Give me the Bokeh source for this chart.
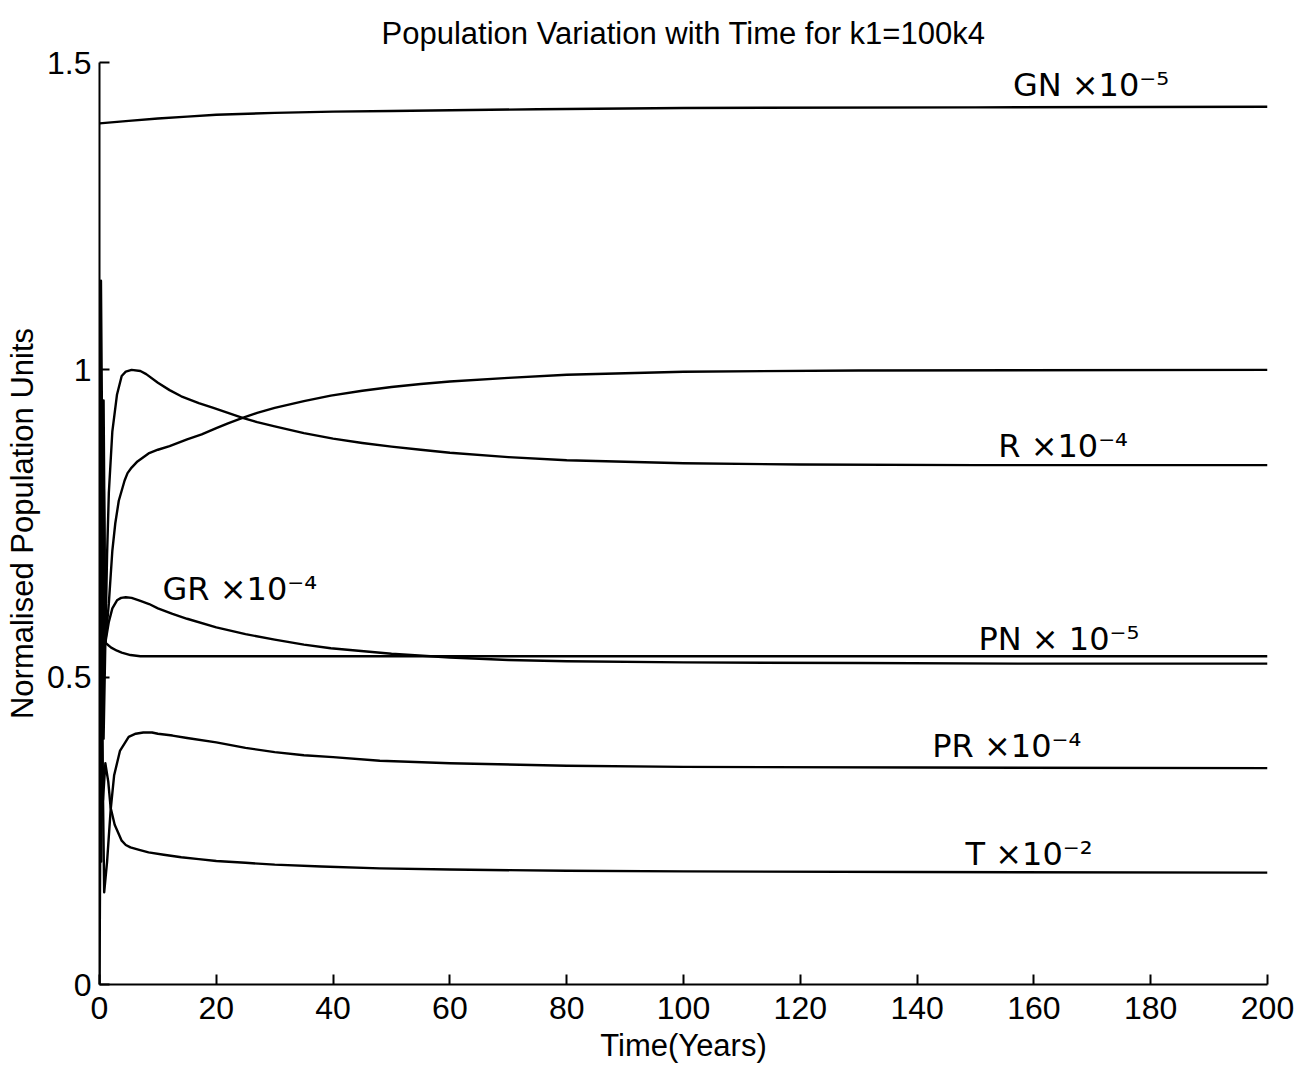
from bokeh.plotting import figure
from bokeh.models import Range1d, FixedTicker, ColumnDataSource
from bokeh.core.properties import value
from bokeh.embed import file_html
from bokeh.resources import INLINE

# ---- data ----
t_GN = [0, 2.5, 5, 10, 15, 20, 30, 40, 50, 75, 100, 150, 200]
GN = [1.401, 1.403, 1.405, 1.409, 1.412, 1.415, 1.418, 1.420, 1.421, 1.424, 1.426, 1.427, 1.428]

t_R = [0, 0.25, 0.6, 1.0, 1.3, 1.6, 2.2, 3.0, 3.8, 4.5, 5.5, 7, 8, 10, 12, 14, 17, 19.5, 22, 24.5, 27, 30, 35, 40, 45, 50, 55, 60, 70, 80, 100, 120, 150, 200]
R = [0.30, 1.145, 0.70, 0.556, 0.70, 0.80, 0.90, 0.96, 0.99, 0.997, 1.0, 0.998, 0.993, 0.979, 0.967, 0.957, 0.946, 0.938, 0.930, 0.922, 0.915, 0.908, 0.897, 0.888, 0.881, 0.875, 0.870, 0.865, 0.858, 0.853, 0.848, 0.846, 0.845, 0.845]

t_N = [0, 0.3, 0.7, 1.0, 1.6, 2.2, 2.7, 3.3, 4.3, 4.8, 5.5, 6.5, 8.4, 10, 12, 15, 17.5, 20, 22, 24.5, 27, 30, 35, 39.6, 45, 50, 55, 60, 70, 80, 100, 130, 200]
N = [0.85, 0.35, 0.95, 0.556, 0.62, 0.706, 0.75, 0.787, 0.82, 0.832, 0.841, 0.851, 0.864, 0.870, 0.876, 0.887, 0.895, 0.905, 0.913, 0.922, 0.930, 0.938, 0.949, 0.958, 0.966, 0.972, 0.977, 0.981, 0.987, 0.992, 0.997, 0.999, 1.0]

t_GR = [0, 0.3, 0.7, 1.0, 1.6, 2.2, 3.0, 3.7, 4.5, 5.5, 7, 8.5, 10, 12.5, 15, 20, 25, 30, 35, 39.6, 50, 60, 70, 80, 100, 130, 160, 200]
GR = [0.45, 0.95, 0.40, 0.556, 0.59, 0.612, 0.625, 0.629, 0.630, 0.629, 0.624, 0.619, 0.612, 0.603, 0.595, 0.581, 0.570, 0.561, 0.553, 0.547, 0.538, 0.532, 0.528, 0.526, 0.524, 0.523, 0.522, 0.522]

t_PN = [0, 0.3, 0.7, 1.0, 2.0, 3.0, 3.8, 5.3, 7, 10, 20, 50, 100, 200]
PN = [0.65, 0.20, 0.85, 0.556, 0.548, 0.543, 0.540, 0.536, 0.534, 0.534, 0.534, 0.534, 0.534, 0.534]

t_PR = [0, 0.35, 0.8, 1.3, 1.9, 2.5, 3.5, 5.0, 6.2, 7.5, 9, 10, 12.5, 15, 20, 25, 30, 35, 40, 48, 60, 80, 100, 140, 200]
PR = [0.17, 0.50, 0.15, 0.20, 0.283, 0.34, 0.38, 0.403, 0.408, 0.41, 0.41, 0.408, 0.405, 0.401, 0.394, 0.385, 0.378, 0.373, 0.370, 0.364, 0.360, 0.356, 0.354, 0.353, 0.352]

t_T = [0, 0.3, 0.6, 1.0, 1.5, 1.9, 2.6, 3.8, 4.5, 5.3, 6.8, 8.4, 11, 14, 17, 20, 25, 30, 38, 48, 60, 80, 100, 140, 200]
T = [0.0, 0.55, 0.30, 0.36, 0.33, 0.288, 0.26, 0.234, 0.227, 0.223, 0.219, 0.215, 0.211, 0.207, 0.204, 0.201, 0.198, 0.195, 0.192, 0.189, 0.187, 0.185, 0.184, 0.183, 0.182]

x_ticks = [0, 20, 40, 60, 80, 100, 120, 140, 160, 180, 200]
y_ticks = [0, 0.5, 1, 1.5]
y_tick_labels = ["0", "0.5", "1", "1.5"]

label_text = ["GN ×10⁻⁵", "R ×10⁻⁴", "GR ×10⁻⁴", "PN × 10⁻⁵", "PR ×10⁻⁴", "T ×10⁻²"]
label_t = [156.4, 153.9, 10.8, 150.5, 142.6, 148.3]
label_v = [1.464, 0.876, 0.644, 0.562, 0.388, 0.212]

FONT = "Liberation Sans"

p = figure(width=1305, height=1070, x_range=Range1d(0, 200), y_range=Range1d(0, 1.5),
           output_backend="svg", toolbar_location=None,
           min_border_left=99, min_border_right=38, min_border_top=62, min_border_bottom=86,
           title="Population Variation with Time for k1=100k4")
p.title.align = "center"
p.title.text_font = FONT
p.title.text_font_size = "31px"
p.title.text_font_style = "normal"
p.title.text_color = "black"
p.title.standoff = 24
p.grid.visible = False
p.outline_line_color = None
p.background_fill_color = "white"

for ax in (p.xaxis[0], p.yaxis[0]):
    ax.major_tick_in = 10
    ax.major_tick_out = 0
    ax.minor_tick_line_color = None
    ax.axis_line_width = 2
    ax.major_tick_line_width = 2
    ax.axis_line_color = "black"
    ax.major_tick_line_color = "black"
    ax.major_label_text_font = FONT
    ax.major_label_text_font_size = "32px"
    ax.major_label_text_color = "black"
    ax.axis_label_text_font = FONT
    ax.axis_label_text_font_size = "31px"
    ax.axis_label_text_font_style = "normal"
    ax.axis_label_text_color = "black"

p.xaxis.ticker = FixedTicker(ticks=x_ticks)
p.yaxis.ticker = FixedTicker(ticks=y_ticks)
p.yaxis.major_label_overrides = {v: s for v, s in zip(y_ticks, y_tick_labels)}
p.xaxis.axis_label = "Time(Years)"
p.yaxis.axis_label = "Normalised Population Units"
p.xaxis.major_label_standoff = 12
p.yaxis.major_label_standoff = 8
p.xaxis.axis_label_standoff = 6
p.yaxis.axis_label_standoff = 4

for tt, vv in [(t_GN, GN), (t_R, R), (t_N, N), (t_GR, GR), (t_PN, PN), (t_PR, PR), (t_T, T)]:
    p.line(tt, vv, line_color="black", line_width=2.4, line_join="round")

src = ColumnDataSource(dict(x=label_t, y=label_v, text=label_text))
p.text(x="x", y="y", text="text", source=src, text_font=value("DejaVu Sans"),
       text_font_size="32px", text_color="black", text_align="left", text_baseline="alphabetic")

open("out.html", "w").write(file_html(p, INLINE))
